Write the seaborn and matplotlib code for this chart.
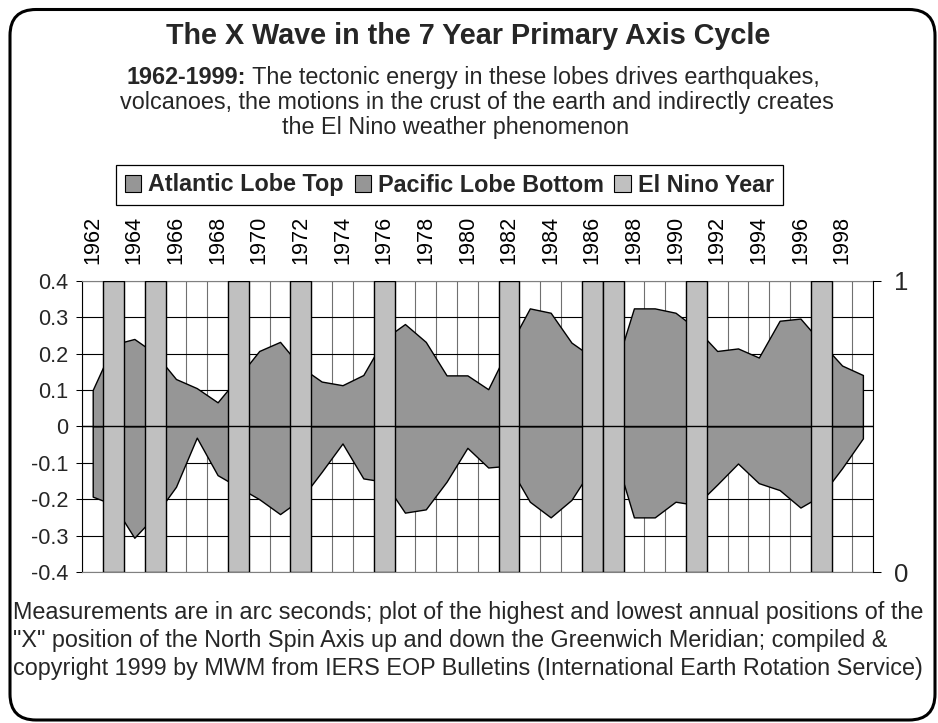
import matplotlib
matplotlib.use("Agg")
import numpy as np
import pandas as pd
import seaborn as sns
import matplotlib.pyplot as plt
from matplotlib.patches import Patch, FancyBboxPatch
from matplotlib.text import Annotation
from matplotlib.transforms import blended_transform_factory
from matplotlib.ticker import FixedLocator, FixedFormatter, NullFormatter

# ---- data -----------------------------------------------------------------
years = [1962, 1963, 1964, 1965, 1966, 1967, 1968, 1969, 1970, 1971,
         1972, 1973, 1974, 1975, 1976, 1977, 1978, 1979, 1980, 1981,
         1982, 1983, 1984, 1985, 1986, 1987, 1988, 1989, 1990, 1991,
         1992, 1993, 1994, 1995, 1996, 1997, 1998, 1999]

# highest annual "X" position (arc seconds)
atlantic_lobe_top = [0.100, 0.225, 0.240, 0.200, 0.130, 0.105, 0.066, 0.135,
                     0.207, 0.232, 0.163, 0.123, 0.113, 0.141, 0.240, 0.281,
                     0.232, 0.140, 0.140, 0.102, 0.218, 0.324, 0.312, 0.230,
                     0.190, 0.140, 0.324, 0.324, 0.312, 0.268, 0.207, 0.214,
                     0.189, 0.290, 0.296, 0.230, 0.167, 0.141]

# lowest annual "X" position (arc seconds)
pacific_lobe_bottom = [-0.193, -0.215, -0.306, -0.245, -0.166, -0.031, -0.134,
                       -0.167, -0.200, -0.241, -0.200, -0.125, -0.047, -0.143,
                       -0.152, -0.237, -0.228, -0.152, -0.059, -0.113, -0.108,
                       -0.207, -0.250, -0.202, -0.113, -0.060, -0.250, -0.250,
                       -0.207, -0.216, -0.160, -0.102, -0.156, -0.175, -0.223,
                       -0.190, -0.115, -0.033]

el_nino_years = [1963, 1965, 1969, 1972, 1976, 1982, 1986, 1987, 1991, 1997]
el_nino_flag = [1, 1, 1, 1, 1, 1, 1, 1, 1, 1]

year_ticks = [1962, 1964, 1966, 1968, 1970, 1972, 1974, 1976, 1978, 1980,
              1982, 1984, 1986, 1988, 1990, 1992, 1994, 1996, 1998]
year_tick_labels = ["1962", "1964", "1966", "1968", "1970", "1972", "1974",
                    "1976", "1978", "1980", "1982", "1984", "1986", "1988",
                    "1990", "1992", "1994", "1996", "1998"]
y_ticks = [-0.4, -0.3, -0.2, -0.1, 0.0, 0.1, 0.2, 0.3, 0.4]
y_tick_labels = ["-0.4", "-0.3", "-0.2", "-0.1", "0", "0.1", "0.2", "0.3", "0.4"]
right_ticks = [0, 1]
right_tick_labels = ["0", "1"]

series_names = ["Atlantic Lobe Top", "Pacific Lobe Bottom", "El Nino Year"]

title = "The X Wave in the 7 Year Primary Axis Cycle"
subtitle_bold = "1962-1999:"
subtitle_rest = " The tectonic energy in these lobes drives earthquakes,"
subtitle_line2 = "volcanoes, the motions in the crust of the earth and indirectly creates"
subtitle_line3 = "the El Nino weather phenomenon"
footnote_lines = [
    "Measurements are in arc seconds; plot of the highest and lowest annual positions of the",
    "\"X\" position of the North Spin Axis up and down the Greenwich Meridian; compiled &",
    "copyright 1999 by MWM from IERS EOP Bulletins (International Earth Rotation Service)",
]

lobe_color = "#969696"
nino_color = "#C0C0C0"

# ---- style ----------------------------------------------------------------
sns.set_theme(style="white")
plt.rcParams["font.family"] = ["Liberation Sans", "DejaVu Sans"]
plt.rcParams["axes.unicode_minus"] = False

W, H, DPI = 938, 723, 100
fig = plt.figure(figsize=(W / DPI, H / DPI), dpi=DPI)
fig.patch.set_facecolor("white")

left_px, right_px, top_px, bottom_px = 82.3, 873.3, 280.7, 572.0
ax = fig.add_axes([left_px / W, 1 - bottom_px / H,
                   (right_px - left_px) / W, (bottom_px - top_px) / H])
ax.set_facecolor("white")

# ---- lobes (primary axis) -------------------------------------------------
df = pd.DataFrame({"year": years, "top": atlantic_lobe_top,
                   "bottom": pacific_lobe_bottom})
ax.fill_between(df["year"], 0, df["top"], facecolor=lobe_color,
                edgecolor="black", linewidth=1.0, zorder=2)
ax.fill_between(df["year"], 0, df["bottom"], facecolor=lobe_color,
                edgecolor="black", linewidth=1.0, zorder=2)

# ---- El Nino years (secondary axis) ---------------------------------------
ax2 = ax.twinx()
nino = pd.DataFrame({"year": el_nino_years, "flag": el_nino_flag})
sns.barplot(data=nino, x="year", y="flag", native_scale=True, width=1.0,
            color=nino_color, saturation=1, edgecolor="black", linewidth=1.0,
            errorbar=None, ax=ax2, zorder=3)

# category axis line at zero, drawn above the bars
zero_tr = blended_transform_factory(ax2.transAxes, ax.transData)
ax2.plot([0, 1], [0, 0], color="black", linewidth=1.0, transform=zero_tr,
         scalex=False, scaley=False, zorder=6)

# ---- axes setup -----------------------------------------------------------
ax.set_xlim(years[0] - 0.5, years[-1] + 0.5)
ax.set_ylim(-0.4, 0.4)
ax2.set_ylim(0, 1)

ax.xaxis.tick_top()
ax.xaxis.set_major_locator(FixedLocator(year_ticks))
ax.xaxis.set_major_formatter(FixedFormatter(year_tick_labels))
ax.xaxis.set_minor_locator(FixedLocator([y - 0.5 for y in years] + [years[-1] + 0.5]))
ax.xaxis.set_minor_formatter(NullFormatter())
ax.tick_params(axis="x", which="both", length=0, pad=12, labelsize=15.6,
               labelrotation=90, colors="black", top=True, bottom=False,
               labeltop=True, labelbottom=False)

ax.set_yticks(y_ticks)
ax.set_yticklabels(y_tick_labels)
ax.tick_params(axis="y", which="major", direction="out", length=4, width=0.75,
               pad=6, labelsize=15.6, color="black", left=True)

ax2.set_yticks(right_ticks)
ax2.set_yticklabels(right_tick_labels)
ax2.tick_params(axis="y", direction="out", length=6, width=0.75, pad=9,
                labelsize=18.5, color="black", right=True)
ax2.set_xlabel("")
ax2.set_ylabel("")
ax.set_xlabel("")
ax.set_ylabel("")

ax.grid(False)
ax.yaxis.grid(True, which="major", color="black", linewidth=0.8)
ax.xaxis.grid(True, which="minor", color="#707070", linewidth=0.8)
ax.xaxis.grid(False, which="major")
ax.set_axisbelow(True)

for side, sp in ax.spines.items():
    sp.set_linewidth(0.8)
ax.spines["left"].set_color("black")
ax.spines["top"].set_color("#808080")
ax.spines["bottom"].set_color("#808080")
ax.spines["right"].set_visible(False)
for side in ("left", "top", "bottom"):
    ax2.spines[side].set_visible(False)
ax2.spines["right"].set_color("black")
ax2.spines["right"].set_linewidth(0.8)

# ---- legend ---------------------------------------------------------------
handles = [Patch(facecolor=lobe_color, edgecolor="black", linewidth=0.8),
           Patch(facecolor=lobe_color, edgecolor="black", linewidth=0.8),
           Patch(facecolor=nino_color, edgecolor="black", linewidth=0.8)]
leg = fig.legend(handles, series_names, loc="center",
                 bbox_to_anchor=(449.5 / W, 1 - 185 / H), ncol=3,
                 prop={"weight": "bold", "size": 16.8}, frameon=True,
                 fancybox=False, edgecolor="black", framealpha=1,
                 handlelength=0.7, handleheight=0.7, handletextpad=0.3,
                 columnspacing=0.45, borderpad=0.38, borderaxespad=0)
leg.get_frame().set_linewidth(0.9)

# ---- titles ---------------------------------------------------------------
fig.text(468.5 / W, 1 - 44 / H, title, ha="center", va="baseline",
         fontsize=20.7, fontweight="bold")
t_bold = fig.text(127 / W, 1 - 84 / H, subtitle_bold, ha="left",
                  va="baseline", fontsize=16.8, fontweight="bold")
fig.add_artist(Annotation(subtitle_rest, xy=(1, 0), xycoords=t_bold,
                          ha="left", va="bottom", fontsize=16.8))
fig.text(477 / W, 1 - 109 / H, subtitle_line2, ha="center", va="baseline",
         fontsize=16.8)
fig.text(455.5 / W, 1 - 134 / H, subtitle_line3, ha="center", va="baseline",
         fontsize=16.8)

for i, line in enumerate(footnote_lines):
    fig.text(13 / W, 1 - (618.5 + 28.2 * i) / H, line, ha="left",
             va="baseline", fontsize=16.8)

# ---- rounded outer frame --------------------------------------------------
frame = FancyBboxPatch((10 / DPI, (H - 720) / DPI), (935 - 10) / DPI,
                       (720 - 9.5) / DPI,
                       boxstyle="round,pad=0,rounding_size=0.26",
                       transform=fig.dpi_scale_trans, facecolor="none",
                       edgecolor="black", linewidth=2.2, zorder=10)
fig.add_artist(frame)

fig.savefig("out.png", dpi=DPI, facecolor="white")
